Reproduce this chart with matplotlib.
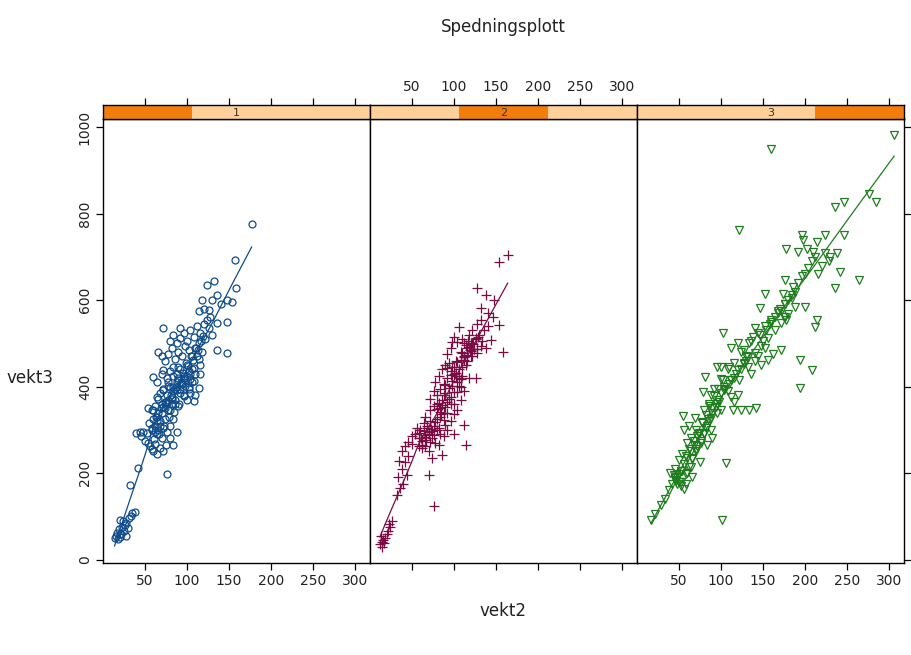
import numpy as np
import matplotlib
matplotlib.use("Agg")
import matplotlib.pyplot as plt
from matplotlib.patches import Rectangle

# ---- data: vekt2 (x) and vekt3 (y) for each level of the grouping shingle ----
g1_x = [14, 16, 18, 20, 22, 17, 19, 23, 21, 25, 26, 24, 28, 30, 27, 31, 33, 35, 38, 20,
        32, 42, 76,
        40, 44, 48, 52, 46, 50, 54, 56, 58, 60, 62, 65, 68, 72, 75, 80, 84, 88, 70, 66,
        62, 58, 55, 60, 64, 68, 72, 76, 80, 84,
        54, 58, 62, 66, 70, 74, 78, 82, 86, 90, 64, 68, 72, 76, 80, 84, 88, 92, 96, 100,
        104, 108, 110, 114, 60, 64, 70, 72, 76, 80, 84, 88, 92, 96, 100, 104, 106, 78, 82,
        74, 86, 90, 94, 98, 102,
        72, 92, 66, 70, 74, 78, 82, 86, 90, 94, 98, 102, 106, 110, 114, 118, 122, 80, 84,
        88, 92, 96, 100, 104, 108, 112, 116, 120, 124, 136, 148, 136, 148, 126, 130, 128,
        114, 120, 126, 124, 132, 136, 154, 158, 157, 177, 148, 130, 118, 140,
        60, 63, 66, 69, 72, 75, 78, 81, 84, 87, 90, 93, 96, 99, 102, 105, 108, 111, 114, 117,
        62, 65, 68, 71, 74, 77, 80, 83, 86, 89, 92, 95, 98, 101, 104, 107, 110, 113, 116, 119,
        58, 61, 64, 67, 70, 73, 76, 79, 82, 85, 88, 91, 94, 97, 100, 103, 106, 109, 112, 115]
g1_y = [50, 55, 48, 52, 60, 62, 70, 75, 58, 66, 80, 90, 85, 72, 55, 95, 100, 108, 110, 92,
        173, 212, 198,
        292, 295, 294, 293, 285, 275, 270, 262, 255, 250, 268, 245, 258, 250, 265, 281, 265,
        296, 280, 300, 310, 300, 315, 325, 290, 320, 305, 295, 310, 325,
        350, 345, 355, 340, 360, 350, 345, 360, 370, 355, 375, 385, 395, 380, 400, 390, 410,
        395, 380, 370, 385, 366, 380, 397, 423, 410, 430, 438, 420, 435, 445, 430, 440, 425,
        450, 430, 410, 410, 375, 365, 395, 420, 405, 415, 400,
        535, 535, 480, 470, 460, 475, 490, 465, 480, 470, 495, 485, 470, 490, 500, 480, 510,
        505, 520, 500, 512, 525, 505, 530, 515, 540, 525, 545, 555, 485, 477, 546, 550, 535,
        520, 560,
        575, 580, 578, 635, 644, 613, 596, 629, 692, 775, 600, 600, 600, 590,
        345, 330, 372, 350, 392, 365, 401, 380, 425, 398, 445, 410, 420, 455, 436, 470, 442,
        490, 465, 505,
        295, 330, 310, 352, 325, 370, 345, 398, 360, 415, 385, 432, 402, 448, 418, 462, 430,
        485, 450, 518,
        305, 278, 320, 290, 338, 310, 362, 330, 372, 342, 392, 360, 408, 378, 425, 395, 440,
        412, 470, 430]

g2_x = [12, 14, 15, 16, 18, 13, 17, 20, 22, 24, 26, 23,
        32, 36, 40, 44, 34, 38, 42, 46, 35, 38, 42, 46, 50, 76,
        50, 54, 58, 62, 66, 70, 74, 78, 82, 86, 70, 66, 60, 56, 64, 68, 72, 76, 80, 84, 88,
        70, 74, 58, 62, 80, 84, 90, 112, 114, 100, 96, 92,
        66, 72, 76, 80, 84, 88, 92, 96, 100, 104, 108, 80, 84, 88, 92, 96, 100, 104, 108,
        112, 118, 126, 78, 82, 86, 90, 94, 98, 102, 106, 110, 114, 76, 72, 90,
        92, 96, 98, 104, 106, 100, 108, 112, 116, 120, 124, 128, 132, 126, 130, 134, 138,
        144, 158, 118, 122, 128, 136, 140, 154, 132, 112, 116, 120, 110,
        132, 128, 138, 148, 154, 164, 140, 146,
        58, 61, 64, 67, 70, 73, 76, 62, 66, 72, 68, 74, 78, 82, 85, 88, 90, 92, 94, 96,
        98, 100, 102, 94, 96, 98, 100, 102, 104, 106, 92, 90, 88, 86, 108, 110, 112, 114,
        116, 118, 120, 122, 124, 126, 121, 119, 117, 123, 127, 129, 80, 82, 84, 86, 100,
        104, 106, 108, 110, 112]
g2_y = [35, 40, 30, 45, 50, 55, 38, 60, 65, 75, 88, 82,
        150, 165, 175, 196, 190, 210, 225, 240, 227, 250, 262, 273, 268, 123,
        285, 290, 280, 275, 288, 295, 280, 270, 265, 242, 250, 262, 300, 305, 315, 305, 320,
        310, 300, 290, 285, 196, 235, 262, 258, 325, 330, 312, 312, 265, 290, 320, 300,
        330, 345, 355, 360, 350, 340, 365, 375, 360, 345, 370, 380, 395, 405, 420, 435, 430,
        410, 400, 390, 421, 419, 410, 425, 440, 450, 455, 445, 460, 440, 425, 450, 390, 372,
        385,
        475, 490, 504, 504, 538, 515, 480, 470, 490, 500, 488, 478, 495, 510, 520, 505, 490,
        508, 481, 520, 530, 545, 530, 540, 542, 555, 500, 460, 470, 510,
        581, 627, 612, 600, 688, 704, 570, 560,
        292, 281, 298, 276, 290, 302, 287, 266, 283, 272, 309, 298, 318, 305, 336, 322, 352,
        338, 372, 360, 402, 388, 424, 396, 428, 414, 446, 432, 458, 420, 442, 404, 380, 368,
        462, 478, 468, 496, 474, 492, 482, 502, 488, 512, 470, 484, 505, 498, 486, 514, 348,
        362, 342, 358, 336, 388, 402, 418, 446, 462]

g3_x = [17, 29, 22, 34, 101,
        38, 42, 45, 48, 50, 44, 52, 56, 58, 40, 46, 52, 56, 60, 64, 50, 54, 58, 62, 66, 70,
        60, 64, 68, 72, 76, 80, 56, 62, 70, 74, 78, 82, 86, 55, 69, 88, 90, 106, 84, 75, 66,
        80, 86, 90, 95, 100, 114, 124, 142, 134, 79, 88, 92, 96, 100, 104, 108, 112, 116,
        120, 102, 112, 122, 81, 95, 110, 100, 118, 124, 128, 132, 136, 140, 144, 130, 128,
        102, 112, 120, 134, 138, 146, 150, 154, 158, 140, 152, 156, 162, 148,
        172, 194, 208, 194, 176, 146, 152,
        160, 164, 168, 172, 176, 180, 174, 176, 170, 184, 188, 192, 196, 200, 212, 214, 200,
        204, 208, 212, 216, 220, 224, 238, 242, 264, 236, 178, 192, 202, 210, 196, 198, 214,
        224, 246, 236, 246, 276, 284, 122, 160, 306, 230, 228, 186,
        46, 48, 50, 47, 52, 54, 58, 60, 62, 64, 66, 68, 70, 72, 74, 76, 78, 80, 82, 84, 86,
        88, 90, 92, 94, 96, 98, 100, 104, 108, 112, 116, 120, 124, 128, 132, 136, 140, 144,
        148, 152, 156, 160, 164, 168, 172, 176, 180, 184, 188, 130, 115, 95, 85, 175, 178,
        110, 105]
g3_y = [92, 127, 105, 140, 92,
        160, 175, 185, 190, 180, 195, 170, 162, 175, 200, 210, 205, 220, 200, 215, 230, 245,
        240, 255, 235, 250, 270, 280, 265, 285, 270, 290, 300, 310, 300, 292, 315, 305, 320,
        331, 327, 300, 280, 223, 265, 225, 190,
        346, 360, 350, 340, 346, 346, 346, 350, 346, 388, 380, 395, 370, 385, 400, 390, 375,
        365, 380, 415, 415, 415, 423, 446, 446, 446, 430, 440, 455, 445, 430, 460, 470, 470,
        485, 523, 490, 500, 500, 515, 520, 505, 530, 545, 535, 490, 462, 475, 450,
        485, 462, 438, 396, 561, 581, 615,
        550, 560, 570, 575, 590, 600, 615, 646, 580, 605, 620, 640, 655, 584, 538, 554, 660,
        675, 690, 700, 661, 680, 708, 708, 665, 646, 627, 719, 711, 719, 711, 750, 738, 735,
        750, 750, 815, 827, 846, 827, 762, 950, 981, 700, 690, 630,
        188, 175, 198, 182, 180, 205, 198, 235, 215, 250, 232, 275, 255, 262, 290, 275, 318,
        292, 335, 310, 355, 328, 340, 378, 352, 395, 365, 418, 392, 440, 415, 455, 438, 480,
        452, 468, 505, 478, 525, 495, 540, 512, 555, 530, 575, 548, 590, 568, 612, 585, 460,
        420, 360, 325, 560, 555, 405, 395]

group_labels = ["1", "2", "3"]
series_x = [g1_x, g2_x, g3_x]
series_y = [g1_y, g2_y, g3_y]

x_ticks = [50, 100, 150, 200, 250, 300]
y_ticks = [0, 200, 400, 600, 800, 1000]

title_text = "Spedningsplott"
x_label = "vekt2"
y_label = "vekt3"

# ---- styling ----
colors = ["#0f4c8a", "#7a0c44", "#1f7d1f"]
markers = ["o", "+", "v"]
marker_sizes = [5.0, 6.8, 5.4]
strip_light = "#ffd09a"
strip_dark = "#f27d0c"
text_col = "#222222"


def loess_smooth(x, y, span=2 / 3, n_eval=50, iters=4):
    """Local linear smoother with tricube weights and bisquare robustness steps."""
    x = np.asarray(x, float)
    y = np.asarray(y, float)
    n = len(x)
    q = max(int(np.floor(n * span)), 2)
    rw = np.ones(n)

    def fit_at(x0):
        d = np.abs(x - x0)
        h = np.sort(d)[q - 1] * 1.0001
        w = np.clip(1 - (d / h) ** 3, 0, None) ** 3 * rw
        sw = w.sum()
        xm = (w * x).sum() / sw
        ym = (w * y).sum() / sw
        sxx = (w * (x - xm) ** 2).sum()
        b = (w * (x - xm) * (y - ym)).sum() / sxx if sxx > 0 else 0.0
        return ym + b * (x0 - xm)

    for _ in range(iters):
        fitted = np.array([fit_at(xi) for xi in x])
        res = y - fitted
        s = np.median(np.abs(res))
        if s <= 0:
            break
        u = res / (6 * s)
        rw = np.where(np.abs(u) < 1, (1 - u ** 2) ** 2, 0.0)
    xs = np.linspace(x.min(), x.max(), n_eval)
    return xs, np.array([fit_at(v) for v in xs])


# shared limits extended like lattice (4 % on each side)
all_x = np.concatenate([np.asarray(s, float) for s in series_x])
all_y = np.concatenate([np.asarray(s, float) for s in series_y])
xr = all_x.max() - all_x.min()
yr = all_y.max() - all_y.min()
xlim = (all_x.min() - 0.04 * xr, all_x.max() + 0.04 * xr)
ylim = (all_y.min() - 0.04 * yr, all_y.max() + 0.04 * yr)

fig = plt.figure(figsize=(9.12, 6.55), dpi=100)
plt.rcParams["font.family"] = ["DejaVu Sans"]

W, H = 912.0, 655.0
panel_left = 103.0
panel_w = 267.0
panel_top = 119.0
panel_bot = 563.0
strip_top = 105.0
n_pan = len(series_x)

for i in range(n_pan):
    l = (panel_left + i * panel_w) / W
    ax = fig.add_axes([l, (H - panel_bot) / H, panel_w / W, (panel_bot - panel_top) / H])
    sx = fig.add_axes([l, (H - panel_top) / H, panel_w / W, (panel_top - strip_top) / H],
                      sharex=ax)

    xs, ys = loess_smooth(series_x[i], series_y[i])
    ax.plot(series_x[i], series_y[i], linestyle="none", marker=markers[i],
            markersize=marker_sizes[i], mfc="none", mec=colors[i], mew=0.9)
    ax.plot(xs, ys, color=colors[i], lw=0.9)

    ax.set_xlim(xlim)
    ax.set_ylim(ylim)
    for sp in ax.spines.values():
        sp.set_linewidth(1.0)
        sp.set_color("black")

    # x ticks: bottom on every panel, labels alternate bottom/top
    ax.set_xticks(x_ticks)
    ax.tick_params(axis="x", direction="out", length=5, width=0.9, colors="black",
                   labelsize=10, labelcolor=text_col, pad=3,
                   labelbottom=(i != 1))
    # y ticks only on the outer panels
    ax.set_yticks(y_ticks)
    if i == 0:
        ax.tick_params(axis="y", direction="out", length=5, width=0.9,
                       labelsize=10, labelcolor=text_col, pad=3)
        for lab in ax.get_yticklabels():
            lab.set_rotation(90)
            lab.set_va("center")
    elif i == n_pan - 1:
        ax.yaxis.tick_right()
        ax.tick_params(axis="y", direction="out", length=5, width=0.9,
                       labelright=False, labelleft=False)
    else:
        ax.tick_params(axis="y", length=0, labelleft=False)

    # strip with shaded shingle interval
    sx.set_ylim(0, 1)
    sx.set_yticks([])
    x0, x1 = xlim
    sx.add_patch(Rectangle((x0, 0), x1 - x0, 1, facecolor=strip_light,
                           edgecolor="none", zorder=0))
    a = x0 + (x1 - x0) * i / n_pan
    b = x0 + (x1 - x0) * (i + 1) / n_pan
    sx.add_patch(Rectangle((a, 0), b - a, 1, facecolor=strip_dark,
                           edgecolor="none", zorder=1))
    sx.text(0.5, 0.45, group_labels[i], transform=sx.transAxes, ha="center",
            va="center", fontsize=8, color="#333333", zorder=3)
    for sp in sx.spines.values():
        sp.set_linewidth(1.0)
        sp.set_color("black")
    sx.xaxis.tick_top()
    sx.tick_params(axis="x", direction="out", length=5, width=0.9, colors="black",
                   labelsize=10, labelcolor=text_col, pad=3,
                   labeltop=(i == 1), labelbottom=False)
    ax.tick_params(axis="x", top=False)

fig.text(503 / W, 1 - 27 / H, title_text, ha="center", va="center",
         fontsize=12, color=text_col)
fig.text(503 / W, 1 - 611 / H, x_label, ha="center", va="center",
         fontsize=12, color=text_col)
fig.text(30 / W, 1 - 378 / H, y_label, ha="center", va="center",
         fontsize=12, color=text_col)

fig.savefig("out.png", dpi=100)
